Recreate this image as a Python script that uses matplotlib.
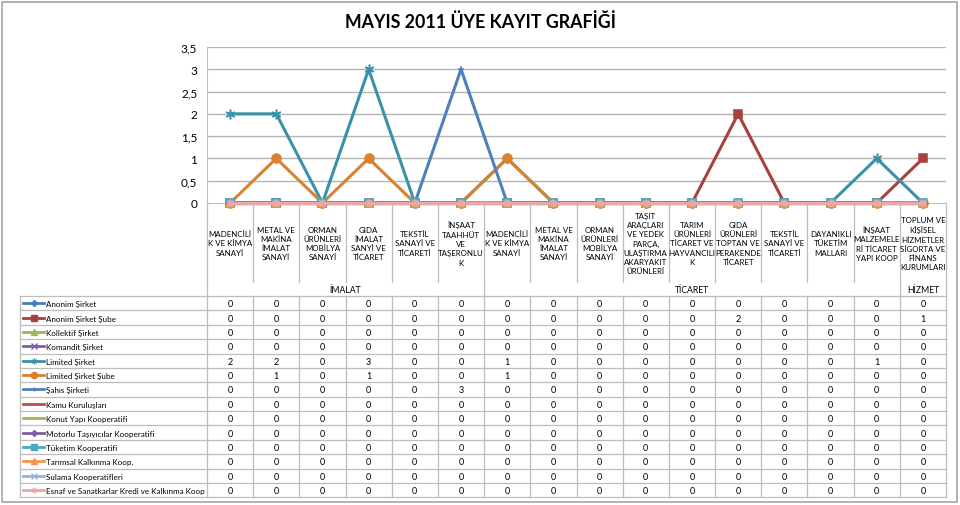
import numpy as np
import matplotlib
matplotlib.use("Agg")
import matplotlib.pyplot as plt
import matplotlib.transforms as mtransforms
from matplotlib.lines import Line2D
from matplotlib.patches import Rectangle

#--------------------------------------------------------------------------------------
#Data
title = "MAYIS 2011 ÜYE KAYIT GRAFİĞİ"

categories = [
    "MADENCİLİ\nK VE KİMYA\nSANAYİ",
    "METAL VE\nMAKİNA\nİMALAT\nSANAYİ",
    "ORMAN\nÜRÜNLERİ\nMOBİLYA\nSANAYİ",
    "GIDA\nİMALAT\nSANYİ VE\nTİCARET",
    "TEKSTİL\nSANAYİ VE\nTİCARETİ",
    "İNŞAAT\nTAAHHÜT\nVE\nTAŞERONLU\nK",
    "MADENCİLİ\nK VE KİMYA\nSANAYİ",
    "METAL VE\nMAKİNA\nİMALAT\nSANAYİ",
    "ORMAN\nÜRÜNLERİ\nMOBİLYA\nSANAYİ",
    "TAŞIT\nARAÇLARI\nVE YEDEK\nPARÇA,\nULAŞTIRMA\nAKARYAKIT\nÜRÜNLERİ",
    "TARIM\nÜRÜNLERİ\nTİCARET VE\nHAYVANCILI\nK",
    "GIDA\nÜRÜNLERİ\nTOPTAN VE\nPERAKENDE\nTİCARET",
    "TEKSTİL\nSANAYİ VE\nTİCARETİ",
    "DAYANIKLI\nTÜKETİM\nMALLARI",
    "İNŞAAT\nMALZEMELE\nRİ TİCARET\nYAPI KOOP",
    "TOPLUM VE\nKİŞİSEL\nHİZMETLER\nSİGORTA VE\nFİNANS\nKURUMLARI",
]
groups = ["İMALAT", "TİCARET", "HİZMET"]
group_sizes = [6, 9, 1]

series_names = [
    "Anonim Şirket",
    "Anonim Şirket Şube",
    "Kollektif Şirket",
    "Komandit Şirket",
    "Limited Şirket",
    "Limited Şirket Şube",
    "Şahıs Şirketi",
    "Kamu Kuruluşları",
    "Konut Yapı Kooperatifi",
    "Motorlu Taşıyıcılar Kooperatifi",
    "Tüketim Kooperatifi",
    "Tarımsal Kalkınma Koop.",
    "Sulama Kooperatifleri",
    "Esnaf ve Sanatkarlar Kredi ve Kalkınma Koop",
]
z = [0] * 16
anonim = list(z)
anonim_sube = [0, 0, 0, 0, 0, 0, 0, 0, 0, 0, 0, 2, 0, 0, 0, 1]
kollektif = list(z)
komandit = list(z)
limited = [2, 2, 0, 3, 0, 0, 1, 0, 0, 0, 0, 0, 0, 0, 1, 0]
limited_sube = [0, 1, 0, 1, 0, 0, 1, 0, 0, 0, 0, 0, 0, 0, 0, 0]
sahis = [0, 0, 0, 0, 0, 3, 0, 0, 0, 0, 0, 0, 0, 0, 0, 0]
kamu = list(z)
konut = list(z)
motorlu = list(z)
tuketim = list(z)
tarimsal = list(z)
sulama = list(z)
esnaf = list(z)
values = [anonim, anonim_sube, kollektif, komandit, limited, limited_sube, sahis,
          kamu, konut, motorlu, tuketim, tarimsal, sulama, esnaf]

yticks = [0, 0.5, 1, 1.5, 2, 2.5, 3, 3.5]
ytick_labels = ["0", "0,5", "1", "1,5", "2", "2,5", "3", "3,5"]

#--------------------------------------------------------------------------------------
#Style
colors = ["#4A7EBB", "#A8403D", "#98B954", "#7D60A0", "#3B91A8", "#D9812F", "#4F7FBF",
          "#BE4B48", "#98B954", "#7D60A0", "#46AAC5", "#F79646", "#95B3D7", "#E6A9A8"]
markers = ["D", "s", "^", "x", (6, 2, 0), "o", "+", None, None, "D", "s", "^", "x", (6, 2, 0)]
msizes = [4, 6, 5.5, 5, 7, 6.5, 4, 0, 0, 4, 6, 6, 5, 5]
leg_ms = [3, 4.5, 4, 4, 4, 4.5, 3, 0, 0, 3, 4.5, 4.5, 4, 4]
grid_c = "#B4B4B4"
tab_c = "#BDBDBD"
main_font = ["Lato", "DejaVu Sans"]

W, H = 960, 506
def fx(px):
    return px / W
def fy(py):
    return 1 - py / H

ax_left, ax_right, ax_top, ax_bottom = 207, 946, 48, 204
cat_bottom = 283
tab_top = 297
row_h = 14.38
n_rows = len(series_names)
tab_bottom = tab_top + n_rows * row_h
leg_left = 20

fig = plt.figure(figsize=(9.6, 5.06), dpi=100)
fig.patches.append(Rectangle((fx(2), fy(503)), fx(955), 500 / H, transform=fig.transFigure,
                             fill=False, edgecolor="#A6A6A6", lw=1.2))
fig.text(fx(480), fy(22), title, ha="center", va="center", fontsize=12.8, fontweight="bold",
         family=main_font)

ax = fig.add_axes([fx(ax_left), fy(ax_bottom), fx(ax_right - ax_left), (ax_bottom - ax_top) / H])
ax.set_xlim(-0.5, len(categories) - 0.5)
ax.set_ylim(0, 3.5)
ax.set_yticks(yticks)
ax.set_yticklabels(ytick_labels, family=main_font, fontsize=8.5)
ax.tick_params(axis="y", length=0, pad=7)
ax.set_xticks([])
for s in ["top", "right"]:
    ax.spines[s].set_visible(False)
ax.spines["left"].set_color(tab_c)
ax.spines["bottom"].set_color(tab_c)
for t in yticks[1:]:
    ax.axhline(t, color=grid_c, lw=1, zorder=0)

x = np.arange(len(categories))
for i, vals in enumerate(values):
    ax.plot(x, vals, color=colors[i], lw=2.2, marker=markers[i], ms=msizes[i],
            mec=colors[i], mew=1.1, clip_on=False, zorder=3 + i * 0.01)

#--------------------------------------------------------------------------------------
#Category area + data table
trans = mtransforms.blended_transform_factory(ax.transData, fig.transFigure)
lw_t = 0.9
def vline(xd, py0, py1):
    fig.add_artist(Line2D([xd, xd], [fy(py0), fy(py1)], transform=trans, color=tab_c, lw=lw_t))

ncat = len(categories)
for i in range(ncat + 1):
    vline(i - 0.5, ax_bottom, cat_bottom)
    vline(i - 0.5, tab_top, tab_bottom)
edge = -0.5
for g, n in zip(groups, group_sizes):
    vline(edge, cat_bottom, tab_top)
    fig.text(edge + n / 2, fy((cat_bottom + tab_top) / 2 + 0.5), g, transform=trans,
             ha="center", va="center", fontsize=6.2, family=main_font)
    edge += n
vline(edge, cat_bottom, tab_top)

for i, c in enumerate(categories):
    fig.text(i, fy((ax_bottom + cat_bottom) / 2 + 0.5), c, transform=trans, ha="center", va="center",
             fontsize=5.7, family=main_font, linespacing=1.38)

fig.add_artist(Line2D([fx(leg_left), fx(ax_right)], [fy(tab_top), fy(tab_top)],
                      transform=fig.transFigure, color=tab_c, lw=lw_t))
for r in range(n_rows):
    py_b = tab_top + (r + 1) * row_h
    fig.add_artist(Line2D([fx(leg_left), fx(ax_right)], [fy(py_b), fy(py_b)],
                          transform=fig.transFigure, color=tab_c, lw=lw_t))
    pc = tab_top + (r + 0.5) * row_h
    fig.add_artist(Line2D([fx(leg_left + 3), fx(leg_left + 24)], [fy(pc), fy(pc)],
                          transform=fig.transFigure, color=colors[r], lw=2))
    if markers[r] is not None:
        fig.add_artist(Line2D([fx(leg_left + 13.5)], [fy(pc)], transform=fig.transFigure,
                              color=colors[r], marker=markers[r], ms=leg_ms[r], mec=colors[r],
                              mew=1, lw=0))
    fig.text(fx(leg_left + 26), fy(pc + 0.5), series_names[r], ha="left", va="center",
             fontsize=5.8, family=main_font)
    for i, v in enumerate(values[r]):
        fig.text(i, fy(pc + 0.5), str(v), transform=trans, ha="center", va="center",
                 fontsize=6.5, family=main_font)
fig.add_artist(Line2D([fx(leg_left), fx(leg_left)], [fy(tab_top), fy(tab_bottom)],
                      transform=fig.transFigure, color=tab_c, lw=lw_t))

plt.savefig("out.png", dpi=100)
